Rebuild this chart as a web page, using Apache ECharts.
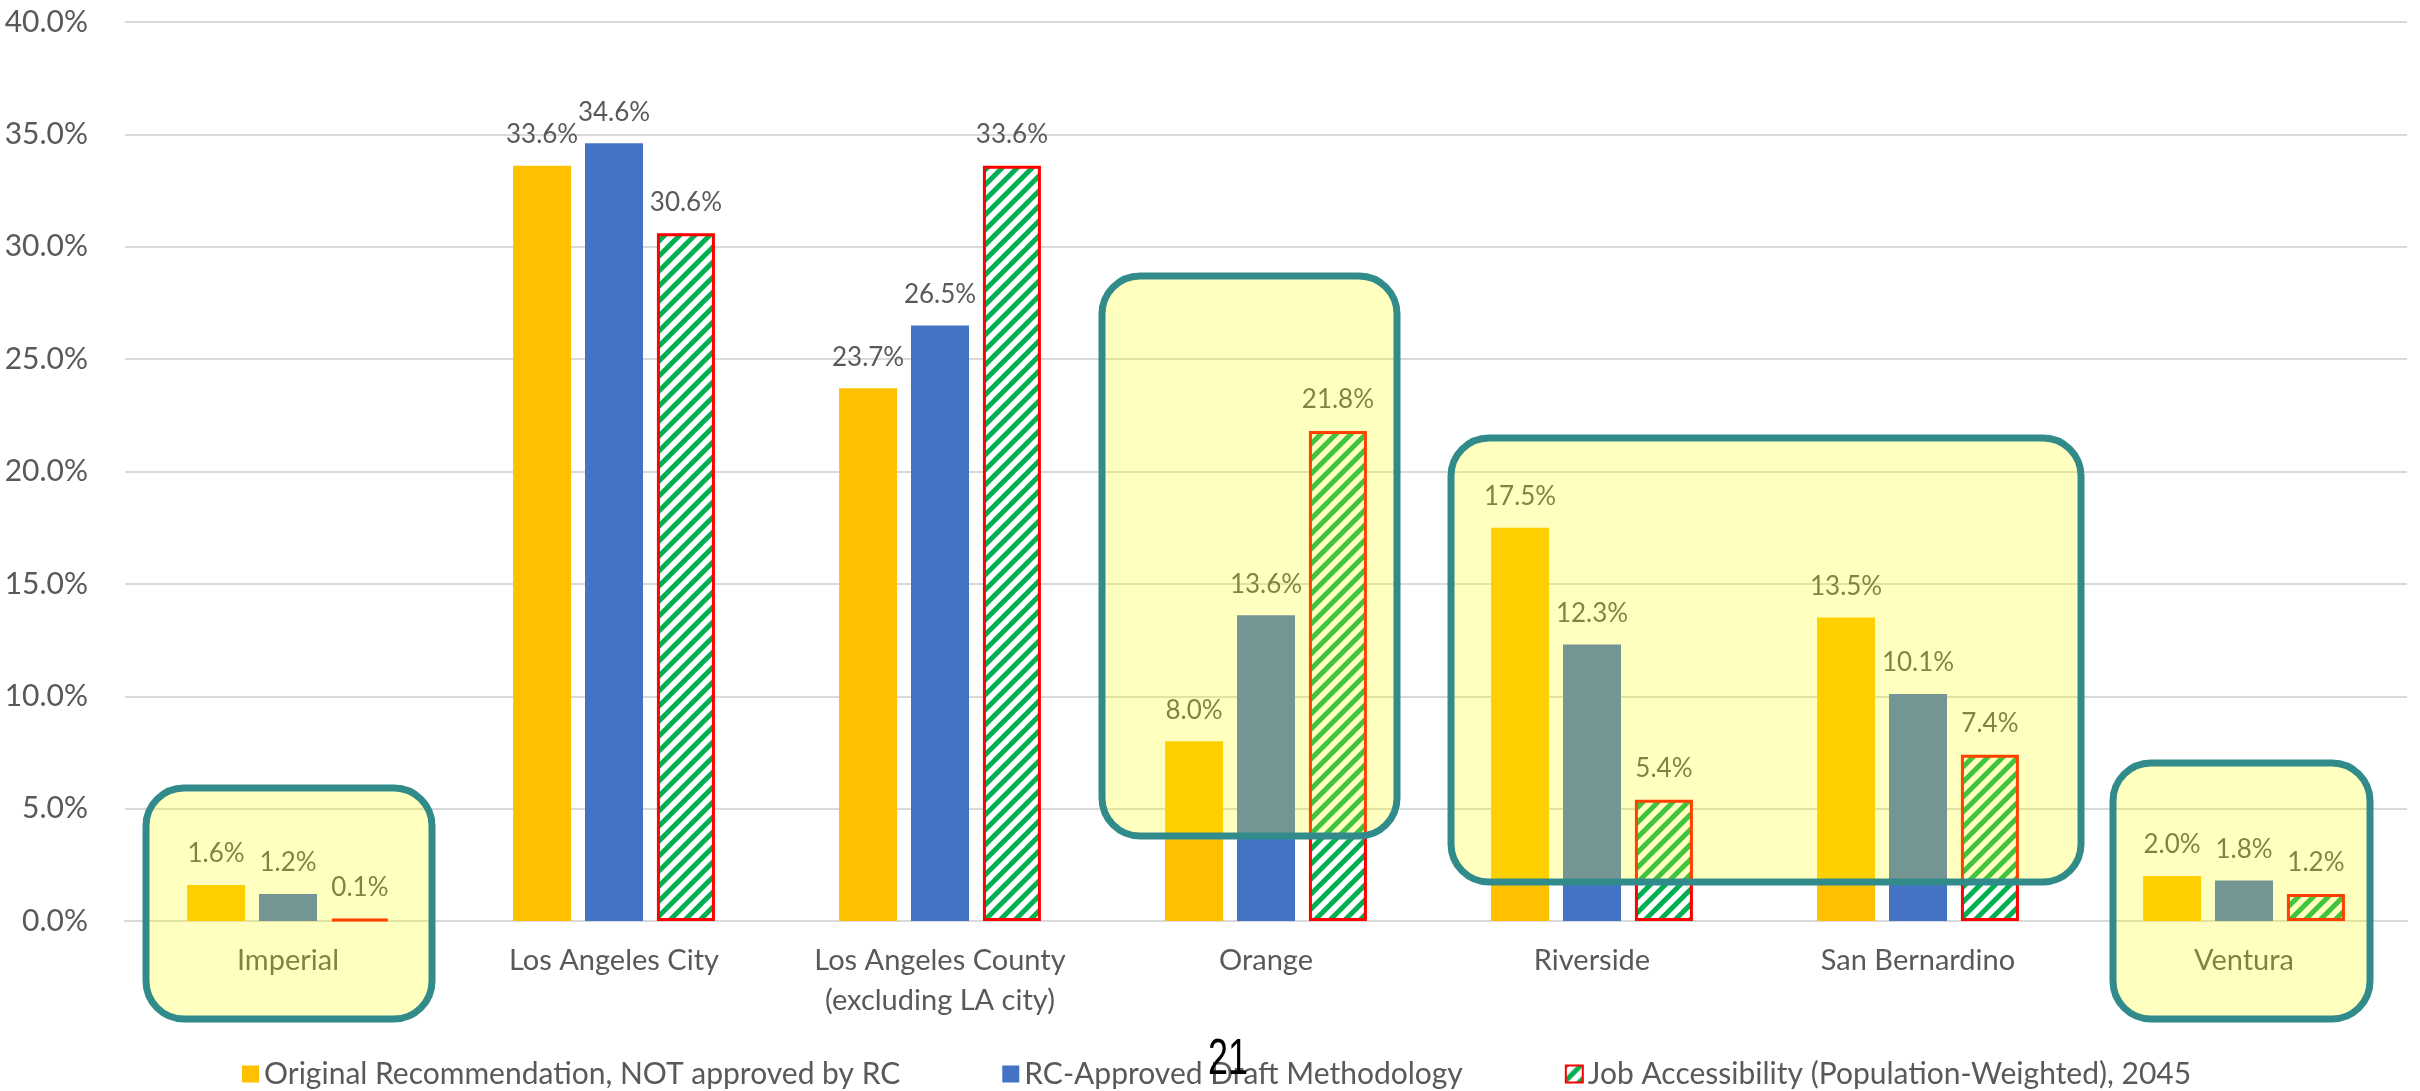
<!DOCTYPE html>
<html>
<head>
<meta charset="utf-8">
<script src="https://cdn.jsdelivr.net/npm/echarts@6/dist/echarts.min.js"></script>
<style>
  html, body { margin: 0; padding: 0; background: #fff; }
  #chart { width: 2420px; height: 1091px; }
</style>
</head>
<body>
<div id="chart"></div>
<script>
// counties / sub-regions
const categories = ['Imperial', 'Los Angeles City', 'Los Angeles County\n(excluding LA city)',
  'Orange', 'Riverside', 'San Bernardino', 'Ventura']

// shares in percent
const originalRec = [1.6, 33.6, 23.7, 8.0, 17.5, 13.5, 2.0]
const rcApproved = [1.2, 34.6, 26.5, 13.6, 12.3, 10.1, 1.8]
const jobAccess = [0.1, 30.6, 33.6, 21.8, 5.4, 7.4, 1.2]

const seriesNames = ['Original Recommendation, NOT approved by RC',
  'RC-Approved Draft Methodology',
  'Job Accessibility (Population-Weighted), 2045']

const yTicks = { min: 0, max: 40, interval: 5 }

const FONT = 'Lato'
const GREY = '#595959'

// green diagonal hatch on white
function makeHatch() {
    const s = 15
    const c = document.createElement('canvas')
    c.width = s
    c.height = s
    const ctx = c.getContext('2d')
    ctx.fillStyle = '#ffffff'
    ctx.fillRect(0, 0, s, s)
    ctx.strokeStyle = '#00B050'
    ctx.lineWidth = 5
    ctx.beginPath()
    ctx.moveTo(-4, s + 4); ctx.lineTo(s + 4, -4)
    ctx.moveTo(-4, 4); ctx.lineTo(4, -4)
    ctx.moveTo(s - 4, s + 4); ctx.lineTo(s + 4, s - 4)
    ctx.stroke()
    return c
}

const pctLabel = {
    show: true,
    position: 'top',
    distance: 18,
    color: GREY,
    fontFamily: FONT,
    fontSize: 26,
    formatter: p => p.value.toFixed(1) + '%'
}

// yellow highlight boxes drawn over the plot (slide annotations)
function box(x, y, w, h) {
    return {
        type: 'rect',
        z: 100,
        silent: true,
        shape: { x: x, y: y, width: w, height: h, r: 38 },
        style: { fill: 'rgba(255,255,0,0.25)', stroke: '#318B8B', lineWidth: 7 }
    }
}

const option = {
    animation: false,
    backgroundColor: '#ffffff',
    grid: { left: 125, right: 13, top: 22, bottom: 170 },
    legend: {
        left: 237,
        top: 1054,
        itemWidth: 17,
        itemHeight: 17,
        itemGap: 102,
        icon: 'rect',
        textStyle: { color: GREY, fontFamily: FONT, fontSize: 30 },
        data: seriesNames
    },
    xAxis: {
        type: 'category',
        data: categories,
        axisTick: { show: false },
        axisLine: { lineStyle: { color: '#D9D9D9', width: 2 } },
        axisLabel: {
            color: GREY, fontFamily: FONT, fontSize: 29, margin: 20,
            lineHeight: 40, interval: 0
        }
    },
    yAxis: {
        type: 'value',
        min: yTicks.min,
        max: yTicks.max,
        interval: yTicks.interval,
        axisLine: { show: false },
        axisTick: { show: false },
        splitLine: { lineStyle: { color: '#D9D9D9', width: 2 } },
        axisLabel: {
            color: GREY, fontFamily: FONT, fontSize: 30, margin: 37,
            formatter: v => v.toFixed(1) + '%'
        }
    },
    series: [{
        name: seriesNames[0],
        type: 'bar',
        data: originalRec,
        barWidth: 58,
        barGap: '24%',
        itemStyle: { color: '#FFC000' },
        label: pctLabel
    }, {
        name: seriesNames[1],
        type: 'bar',
        data: rcApproved,
        barWidth: 58,
        barGap: '24%',
        itemStyle: { color: '#4472C4' },
        label: pctLabel
    }, {
        name: seriesNames[2],
        type: 'bar',
        data: jobAccess,
        barWidth: 58,
        barGap: '24%',
        itemStyle: {
            color: { image: makeHatch(), repeat: 'repeat' },
            borderColor: '#FF0000',
            borderWidth: 3
        },
        label: pctLabel
    }],
    graphic: [
        box(146, 788, 286, 231),
        box(1102, 276, 295, 560),
        box(1451, 438, 630, 444),
        box(2113, 763, 257, 256),
        {
            type: 'text',
            z: 110,
            x: 1228,
            y: 1060,
            scaleX: 0.72,
            style: {
                text: '21',
                font: '50px "Liberation Sans", Arial, sans-serif',
                fill: '#000000',
                textAlign: 'center',
                textVerticalAlign: 'middle'
            }
        }
    ]
}

const chart = echarts.init(document.getElementById('chart'))
chart.setOption(option)
window.addEventListener('resize', () => {
    chart.resize()
})
</script>
</body>
</html>
